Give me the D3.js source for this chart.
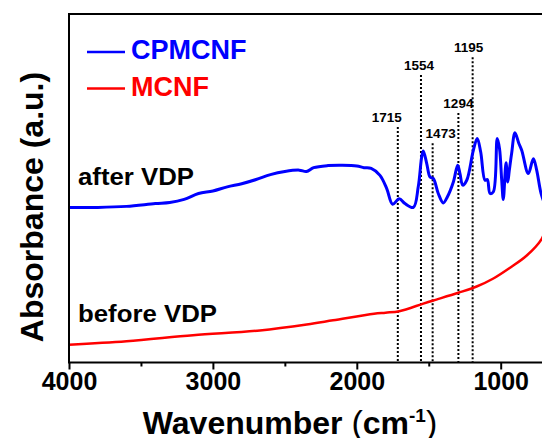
<!DOCTYPE html>
<html>
<head>
<meta charset="utf-8">
<script src="https://cdn.jsdelivr.net/npm/d3@7"></script>
<style>
  body { margin: 0; background: #fff; }
  text { font-family: "Liberation Sans", Arial, sans-serif; font-weight: bold; }
</style>
</head>
<body>
<svg width="542" height="438"></svg>
<script>
// wavenumber (cm-1) and absorbance (a.u.)
var blueWave = [4000, 3800, 3600, 3400, 3300, 3200, 3100, 3000, 2900, 2800, 2700, 2600, 2500, 2400, 2350, 2300, 2200, 2100, 2000, 1950, 1900, 1839, 1792, 1751, 1705, 1665, 1607, 1573, 1549, 1538, 1514, 1491, 1468, 1434, 1399, 1371, 1329, 1299, 1283, 1264, 1236, 1190, 1163, 1139, 1109, 1093, 1074, 1051, 1024, 1008, 993, 982, 963, 951, 940, 924, 901, 875, 854, 808, 773, 750, 720, 690];
var blueAbs = [0.445, 0.445, 0.448, 0.456, 0.459, 0.468, 0.485, 0.492, 0.504, 0.513, 0.525, 0.539, 0.548, 0.552, 0.548, 0.559, 0.565, 0.566, 0.564, 0.559, 0.557, 0.537, 0.499, 0.454, 0.470, 0.456, 0.445, 0.504, 0.590, 0.607, 0.571, 0.532, 0.528, 0.485, 0.458, 0.475, 0.518, 0.566, 0.542, 0.509, 0.523, 0.609, 0.643, 0.604, 0.523, 0.525, 0.485, 0.490, 0.643, 0.613, 0.523, 0.468, 0.573, 0.518, 0.552, 0.600, 0.659, 0.630, 0.609, 0.542, 0.585, 0.552, 0.486, 0.450];

var redWave = [4000, 3600, 3138, 2673, 2348, 2165, 1880, 1800, 1705, 1538, 1468, 1295, 1167, 1051, 935, 819, 715, 680];
var redAbs = [0.051, 0.061, 0.078, 0.092, 0.109, 0.121, 0.140, 0.143, 0.147, 0.169, 0.178, 0.200, 0.218, 0.241, 0.272, 0.307, 0.355, 0.394];

var peakWave = [1715, 1554, 1473, 1294, 1195];
var peakTop = [0.676, 0.825, 0.629, 0.716, 0.876];
var peakLabelShift = [-11, -2, 8, 0, -4];

var xTicks = [4000, 3000, 2000, 1000];
var xMinorTicks = [3500, 2500, 1500];

var seriesNames = ["CPMCNF", "MCNF"];
var seriesColors = ["#0000ff", "#ff0000"];

var svg = d3.select("svg");
var mLeft = 69, mTop = 14, mBottom = 362.5;

var x = d3.scaleLinear().domain([4000, 400]).range([mLeft, mLeft + 3600 * 0.1439]);
var y = d3.scaleLinear().domain([0, 1]).range([mBottom, mTop]);

var line = d3.line()
  .x(function(d) { return x(d[0]); })
  .y(function(d) { return y(d[1]); })
  .curve(d3.curveCatmullRom.alpha(0.5));

// dotted peak markers
var peaks = svg.append("g");
peaks.selectAll("line").data(peakWave).enter().append("line")
  .attr("x1", function(d) { return x(d); })
  .attr("x2", function(d) { return x(d); })
  .attr("y1", function(d, i) { return y(peakTop[i]); })
  .attr("y2", mBottom)
  .attr("stroke", "#000")
  .attr("stroke-width", 2)
  .attr("stroke-dasharray", "2,2");
peaks.selectAll("text").data(peakWave).enter().append("text")
  .attr("x", function(d, i) { return x(d) + peakLabelShift[i]; })
  .attr("y", function(d, i) { return y(peakTop[i]) - 5; })
  .attr("text-anchor", "middle")
  .style("font-size", "13.5px")
  .text(function(d) { return d; });

// spectra
svg.append("path")
  .datum(d3.zip(redWave, redAbs))
  .attr("d", line)
  .attr("fill", "none")
  .attr("stroke", seriesColors[1])
  .attr("stroke-width", 2.5);
svg.append("path")
  .datum(d3.zip(blueWave, blueAbs))
  .attr("d", line)
  .attr("fill", "none")
  .attr("stroke", seriesColors[0])
  .attr("stroke-width", 3)
  .attr("stroke-linejoin", "round");

// frame
svg.append("rect")
  .attr("x", mLeft).attr("y", mTop)
  .attr("width", x(400) - mLeft).attr("height", mBottom - mTop)
  .attr("fill", "none").attr("stroke", "#000").attr("stroke-width", 2);

// x axis
var xAxis = d3.axisBottom(x).tickValues(xTicks).tickSize(7).tickPadding(3).tickFormat(d3.format("d"));
var gx = svg.append("g").attr("transform", "translate(0," + mBottom + ")").call(xAxis);
gx.select(".domain").remove();
gx.selectAll("line").attr("stroke-width", 2);
gx.selectAll("text").style("font-size", "25px").style("font-family", "Liberation Sans, Arial, sans-serif").style("font-weight", "bold").attr("fill", "#000");
var gxm = svg.append("g").attr("transform", "translate(0," + mBottom + ")")
  .call(d3.axisBottom(x).tickValues(xMinorTicks).tickSize(4).tickFormat(""));
gxm.select(".domain").remove();
gxm.selectAll("line").attr("stroke-width", 2);

// axis titles
var xt = svg.append("text").attr("x", 290).attr("y", 434).attr("text-anchor", "middle").style("font-size", "32px");
xt.append("tspan").text("Wavenumber ");
xt.append("tspan").style("font-weight", "normal").style("font-size", "34px").text("(");
xt.append("tspan").text("cm");
xt.append("tspan").attr("dy", -12).style("font-size", "19px").text("-1");
xt.append("tspan").attr("dy", 12).style("font-weight", "normal").style("font-size", "34px").text(")");

svg.append("text")
  .attr("transform", "translate(43,207) rotate(-90)")
  .attr("text-anchor", "middle")
  .style("font-size", "32px")
  .text("Absorbance (a.u.)");

// legend
var legY = [52, 88.5];
seriesNames.forEach(function(name, i) {
  svg.append("line").attr("x1", 87).attr("x2", 125).attr("y1", legY[i]).attr("y2", legY[i])
    .attr("stroke", seriesColors[i]).attr("stroke-width", 2.5);
  svg.append("text").attr("x", 131).attr("y", legY[i] + 7).style("font-size", "27px")
    .attr("fill", seriesColors[i]).text(name);
});

// curve annotations
svg.append("text").attr("x", 78).attr("y", 184.5).style("font-size", "23px")
  .attr("textLength", 116).attr("lengthAdjust", "spacingAndGlyphs").text("after VDP");
svg.append("text").attr("x", 78).attr("y", 321.5).style("font-size", "23px")
  .attr("textLength", 139).attr("lengthAdjust", "spacingAndGlyphs").text("before VDP");
</script>
</body>
</html>
